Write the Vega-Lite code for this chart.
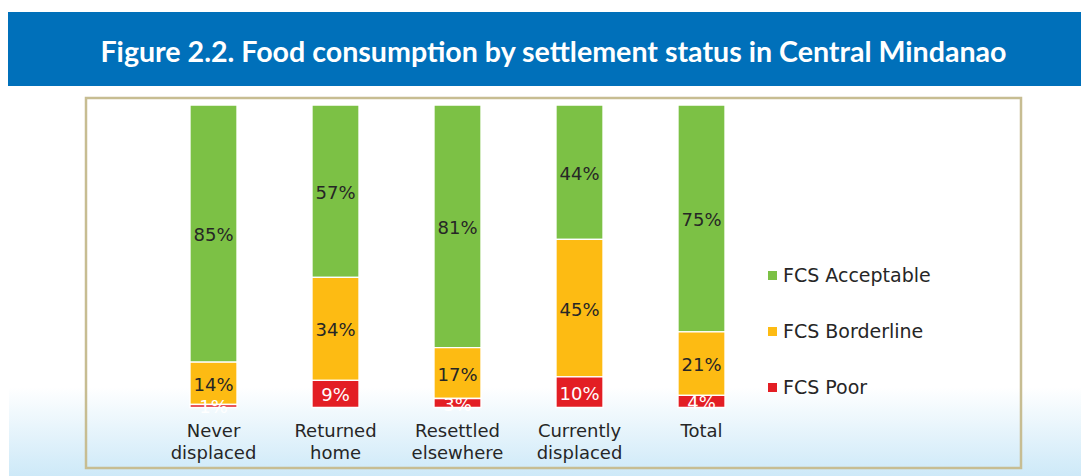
{
  "$schema": "https://vega.github.io/schema/vega-lite/v6.json",
  "width": 935,
  "height": 370,
  "autosize": {"type": "none"},
  "padding": {"left": 86, "top": 98, "right": 60, "bottom": 8},
  "background": "white",
  "config": {"view": {"stroke": null, "fill": null}},
  "title": {
    "text": "Figure 2.2. Food consumption by settlement status in Central Mindanao",
    "anchor": "middle",
    "frame": "group",
    "color": "white",
    "font": "Lato",
    "fontSize": 28.6,
    "fontWeight": "bold",
    "baseline": "alphabetic",
    "offset": -79,
    "zindex": 2
  },
  "datasets": {
    "fcs": [
      {"status": "Never displaced", "category": "FCS Acceptable", "value": 0.85},
      {"status": "Never displaced", "category": "FCS Borderline", "value": 0.14},
      {"status": "Never displaced", "category": "FCS Poor", "value": 0.01},
      {"status": "Returned home", "category": "FCS Acceptable", "value": 0.57},
      {"status": "Returned home", "category": "FCS Borderline", "value": 0.34},
      {"status": "Returned home", "category": "FCS Poor", "value": 0.09},
      {"status": "Resettled elsewhere", "category": "FCS Acceptable", "value": 0.81},
      {"status": "Resettled elsewhere", "category": "FCS Borderline", "value": 0.17},
      {"status": "Resettled elsewhere", "category": "FCS Poor", "value": 0.03},
      {"status": "Currently displaced", "category": "FCS Acceptable", "value": 0.44},
      {"status": "Currently displaced", "category": "FCS Borderline", "value": 0.45},
      {"status": "Currently displaced", "category": "FCS Poor", "value": 0.10},
      {"status": "Total", "category": "FCS Acceptable", "value": 0.75},
      {"status": "Total", "category": "FCS Borderline", "value": 0.21},
      {"status": "Total", "category": "FCS Poor", "value": 0.04}
    ],
    "deco": [{"k": 1}]
  },
  "layer": [
    {
      "data": {"name": "deco"},
      "mark": {
        "type": "rect",
        "fill": {
          "gradient": "linear",
          "x1": 0, "y1": 0, "x2": 0, "y2": 1,
          "stops": [
            {"offset": 0, "color": "#ffffff"},
            {"offset": 1, "color": "#cde9f8"}
          ]
        }
      },
      "encoding": {
        "x": {"value": -77},
        "x2": {"value": 995},
        "y": {"value": 289},
        "y2": {"value": 378}
      }
    },
    {
      "data": {"name": "deco"},
      "mark": {"type": "rect", "fill": "#0070BA"},
      "encoding": {
        "x": {"value": -78},
        "x2": {"value": 995},
        "y": {"value": -86},
        "y2": {"value": -12}
      }
    },
    {
      "data": {"name": "deco"},
      "mark": {"type": "rect", "fill": null, "stroke": "#C7BD92", "strokeWidth": 2.5},
      "encoding": {
        "x": {"value": 0},
        "x2": {"value": 935},
        "y": {"value": 0},
        "y2": {"value": 370}
      }
    },
    {
      "data": {"name": "fcs"},
      "transform": [
        {"stack": "value", "groupby": ["status"], "sort": [{"field": "category", "order": "descending"}], "offset": "normalize", "as": ["v0", "v1"]},
        {"calculate": "(datum.v0 + datum.v1) / 2", "as": "vmid"}
      ],
      "layer": [
        {
          "mark": {"type": "bar", "stroke": "white", "strokeWidth": 1.3},
          "encoding": {
            "x": {
              "field": "status", "type": "nominal",
              "sort": ["Never displaced", "Returned home", "Resettled elsewhere", "Currently displaced", "Total"],
              "scale": {"range": [66.5, 676.5], "paddingInner": 0.615, "paddingOuter": 0.3075},
              "axis": {
                "title": null, "domain": false, "ticks": false, "grid": false,
                "labelAngle": 0, "labelFont": "DejaVu Sans", "labelFontSize": 18,
                "labelColor": "#262626", "labelLineHeight": 22, "labelPadding": 15,
                "labelBaseline": "top",
                "offset": -60.5,
                "zindex": 1,
                "labelExpr": "split(datum.label, ' ')"
              }
            },
            "y": {"field": "v0", "type": "quantitative", "scale": {"domain": [0, 1], "range": [309.5, 7], "nice": false}, "axis": null},
            "y2": {"field": "v1"},
            "color": {
              "field": "category", "type": "nominal",
              "scale": {"domain": ["FCS Acceptable", "FCS Borderline", "FCS Poor"], "range": ["#7CC145", "#FDBB13", "#E31E24"]},
              "legend": {
                "orient": "none", "legendX": 677, "legendY": 168,
                "title": null, "symbolType": "square", "symbolSize": 81,
                "symbolStrokeWidth": 0, "symbolOpacity": 1,
                "labelFont": "DejaVu Sans", "labelFontSize": 19, "labelColor": "#262626",
                "labelOffset": 1, "rowPadding": 36, "padding": 0, "zindex": 1
              }
            }
          }
        },
        {
          "mark": {"type": "text", "font": "DejaVu Sans", "fontSize": 18, "baseline": "middle", "align": "center", "dy": 2.5},
          "encoding": {
            "x": {"field": "status", "type": "nominal", "sort": ["Never displaced", "Returned home", "Resettled elsewhere", "Currently displaced", "Total"]},
            "y": {"field": "vmid", "type": "quantitative"},
            "text": {"field": "value", "type": "quantitative", "format": ".0%"},
            "color": {"condition": {"test": "datum.category === 'FCS Poor'", "value": "white"}, "value": "#262626"}
          }
        }
      ]
    }
  ]
}
